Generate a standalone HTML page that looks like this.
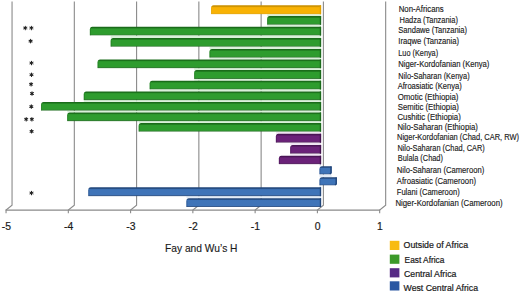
<!DOCTYPE html>
<html><head><meta charset="utf-8"><style>
html,body{margin:0;padding:0;background:#fff;overflow:hidden;}
svg{display:block;}
text{font-family:"Liberation Sans",sans-serif;fill:#1a1a1a;}
.lab{font-size:8.5px;stroke:#1a1a1a;stroke-width:0.15px;}
.ax{font-size:10.4px;stroke:#1a1a1a;stroke-width:0.18px;}
.title{font-size:11.8px;stroke:#1a1a1a;stroke-width:0.15px;}
.leg{font-size:9.2px;stroke:#1a1a1a;stroke-width:0.22px;}
</style></head><body>
<svg width="520" height="293" viewBox="0 0 520 293">
<defs><linearGradient id="go" x1="0" y1="0" x2="0" y2="1"><stop offset="0" stop-color="#c98f00"/><stop offset="0.11" stop-color="#c98f00"/><stop offset="0.26" stop-color="#f8b204"/><stop offset="0.84" stop-color="#f8b204"/><stop offset="0.95" stop-color="#e0a000" stop-opacity="0.9"/><stop offset="1" stop-color="#e0a000" stop-opacity="0.5"/></linearGradient><linearGradient id="gg" x1="0" y1="0" x2="0" y2="1"><stop offset="0" stop-color="#1a6c1a"/><stop offset="0.11" stop-color="#1a6c1a"/><stop offset="0.26" stop-color="#2e9c2e"/><stop offset="0.84" stop-color="#2e9c2e"/><stop offset="0.95" stop-color="#1b6a1b" stop-opacity="0.9"/><stop offset="1" stop-color="#1b6a1b" stop-opacity="0.5"/></linearGradient><linearGradient id="gp" x1="0" y1="0" x2="0" y2="1"><stop offset="0" stop-color="#4a1556"/><stop offset="0.11" stop-color="#4a1556"/><stop offset="0.26" stop-color="#6b2279"/><stop offset="0.84" stop-color="#6b2279"/><stop offset="0.95" stop-color="#44134f" stop-opacity="0.9"/><stop offset="1" stop-color="#44134f" stop-opacity="0.5"/></linearGradient><linearGradient id="gb" x1="0" y1="0" x2="0" y2="1"><stop offset="0" stop-color="#21467a"/><stop offset="0.11" stop-color="#21467a"/><stop offset="0.26" stop-color="#3f74b8"/><stop offset="0.84" stop-color="#3f74b8"/><stop offset="0.95" stop-color="#21457a" stop-opacity="0.9"/><stop offset="1" stop-color="#21457a" stop-opacity="0.5"/></linearGradient></defs>
<path d="M12.05 1.5 V205.3 L6.05 210.1 V213.3" fill="none" stroke="#8a8a8a" stroke-width="1.1"/>
<path d="M74.32 1.5 V205.3 L68.32 210.1 V213.3" fill="none" stroke="#8a8a8a" stroke-width="1.1"/>
<path d="M136.59 1.5 V205.3 L130.59 210.1 V213.3" fill="none" stroke="#8a8a8a" stroke-width="1.1"/>
<path d="M198.86 1.5 V205.3 L192.86 210.1 V213.3" fill="none" stroke="#8a8a8a" stroke-width="1.1"/>
<path d="M261.13 1.5 V205.3 L255.13 210.1 V213.3" fill="none" stroke="#8a8a8a" stroke-width="1.1"/>
<path d="M323.40 1.5 V205.3 L317.40 210.1 V213.3" fill="none" stroke="#8a8a8a" stroke-width="1.1"/>
<path d="M385.67 1.5 V205.3 L379.67 210.1 V213.3" fill="none" stroke="#8a8a8a" stroke-width="1.1"/>
<path d="M5.6 210.1 H380.2" stroke="#8a8a8a" stroke-width="1.1" fill="none"/>
<rect x="267.20" y="14.30" width="53.90" height="1.80" fill="#d9f0d9"/>
<rect x="267.20" y="24.80" width="53.90" height="1.90" fill="#d9f0d9"/>
<rect x="110.70" y="35.60" width="210.40" height="2.40" fill="#d9f0d9"/>
<rect x="209.50" y="46.80" width="111.60" height="2.10" fill="#d9f0d9"/>
<rect x="209.50" y="57.70" width="111.60" height="1.70" fill="#d9f0d9"/>
<rect x="194.20" y="68.20" width="126.90" height="1.90" fill="#d9f0d9"/>
<rect x="194.20" y="78.90" width="126.90" height="1.80" fill="#d9f0d9"/>
<rect x="149.70" y="89.50" width="171.40" height="1.90" fill="#d9f0d9"/>
<rect x="83.80" y="100.20" width="237.30" height="1.70" fill="#d9f0d9"/>
<rect x="67.20" y="110.70" width="253.90" height="1.70" fill="#d9f0d9"/>
<rect x="138.70" y="121.20" width="182.40" height="1.90" fill="#d9f0d9"/>
<rect x="275.90" y="131.70" width="45.20" height="2.10" fill="#f0e4f2"/>
<rect x="290.20" y="142.70" width="30.90" height="2.20" fill="#f0e4f2"/>
<rect x="290.20" y="153.70" width="30.90" height="2.00" fill="#f0e4f2"/>
<rect x="319.50" y="164.30" width="1.60" height="1.90" fill="#e3ecf7"/>
<rect x="319.50" y="174.50" width="12.20" height="2.70" fill="#e3ecf7"/>
<rect x="319.50" y="185.50" width="1.60" height="1.80" fill="#e3ecf7"/>
<rect x="186.40" y="196.20" width="134.70" height="2.00" fill="#e3ecf7"/>
<path d="M211.10 7.80 Q211.10 5.30 213.60 5.30 H321.10 V14.30 H211.10 Z" fill="url(#go)"/>
<path d="M211.55 7.80 V14.00" stroke="#e0a000" stroke-width="0.9" opacity="0.55"/>
<rect x="319.80" y="5.30" width="1.3" height="9.00" fill="#e0a000"/>
<path d="M267.20 18.60 Q267.20 16.10 269.70 16.10 H321.10 V24.80 H267.20 Z" fill="url(#gg)"/>
<path d="M267.65 18.60 V24.50" stroke="#1b6a1b" stroke-width="0.9" opacity="0.55"/>
<rect x="319.80" y="16.10" width="1.3" height="8.70" fill="#1b6a1b"/>
<path d="M89.90 29.20 Q89.90 26.70 92.40 26.70 H321.10 V35.60 H89.90 Z" fill="url(#gg)"/>
<path d="M90.35 29.20 V35.30" stroke="#1b6a1b" stroke-width="0.9" opacity="0.55"/>
<rect x="319.80" y="26.70" width="1.3" height="8.90" fill="#1b6a1b"/>
<path d="M110.70 40.50 Q110.70 38.00 113.20 38.00 H321.10 V46.80 H110.70 Z" fill="url(#gg)"/>
<path d="M111.15 40.50 V46.50" stroke="#1b6a1b" stroke-width="0.9" opacity="0.55"/>
<rect x="319.80" y="38.00" width="1.3" height="8.80" fill="#1b6a1b"/>
<path d="M209.50 51.40 Q209.50 48.90 212.00 48.90 H321.10 V57.70 H209.50 Z" fill="url(#gg)"/>
<path d="M209.95 51.40 V57.40" stroke="#1b6a1b" stroke-width="0.9" opacity="0.55"/>
<rect x="319.80" y="48.90" width="1.3" height="8.80" fill="#1b6a1b"/>
<path d="M97.60 61.90 Q97.60 59.40 100.10 59.40 H321.10 V68.20 H97.60 Z" fill="url(#gg)"/>
<path d="M98.05 61.90 V67.90" stroke="#1b6a1b" stroke-width="0.9" opacity="0.55"/>
<rect x="319.80" y="59.40" width="1.3" height="8.80" fill="#1b6a1b"/>
<path d="M194.20 72.60 Q194.20 70.10 196.70 70.10 H321.10 V78.90 H194.20 Z" fill="url(#gg)"/>
<path d="M194.65 72.60 V78.60" stroke="#1b6a1b" stroke-width="0.9" opacity="0.55"/>
<rect x="319.80" y="70.10" width="1.3" height="8.80" fill="#1b6a1b"/>
<path d="M149.70 83.20 Q149.70 80.70 152.20 80.70 H321.10 V89.50 H149.70 Z" fill="url(#gg)"/>
<path d="M150.15 83.20 V89.20" stroke="#1b6a1b" stroke-width="0.9" opacity="0.55"/>
<rect x="319.80" y="80.70" width="1.3" height="8.80" fill="#1b6a1b"/>
<path d="M83.80 93.90 Q83.80 91.40 86.30 91.40 H321.10 V100.20 H83.80 Z" fill="url(#gg)"/>
<path d="M84.25 93.90 V99.90" stroke="#1b6a1b" stroke-width="0.9" opacity="0.55"/>
<rect x="319.80" y="91.40" width="1.3" height="8.80" fill="#1b6a1b"/>
<path d="M41.10 104.40 Q41.10 101.90 43.60 101.90 H321.10 V110.70 H41.10 Z" fill="url(#gg)"/>
<path d="M41.55 104.40 V110.40" stroke="#1b6a1b" stroke-width="0.9" opacity="0.55"/>
<rect x="319.80" y="101.90" width="1.3" height="8.80" fill="#1b6a1b"/>
<path d="M67.20 114.90 Q67.20 112.40 69.70 112.40 H321.10 V121.20 H67.20 Z" fill="url(#gg)"/>
<path d="M67.65 114.90 V120.90" stroke="#1b6a1b" stroke-width="0.9" opacity="0.55"/>
<rect x="319.80" y="112.40" width="1.3" height="8.80" fill="#1b6a1b"/>
<path d="M138.70 125.60 Q138.70 123.10 141.20 123.10 H321.10 V131.70 H138.70 Z" fill="url(#gg)"/>
<path d="M139.15 125.60 V131.40" stroke="#1b6a1b" stroke-width="0.9" opacity="0.55"/>
<rect x="319.80" y="123.10" width="1.3" height="8.60" fill="#1b6a1b"/>
<path d="M275.90 136.30 Q275.90 133.80 278.40 133.80 H321.10 V142.70 H275.90 Z" fill="url(#gp)"/>
<path d="M276.35 136.30 V142.40" stroke="#44134f" stroke-width="0.9" opacity="0.55"/>
<rect x="319.80" y="133.80" width="1.3" height="8.90" fill="#44134f"/>
<path d="M290.20 147.40 Q290.20 144.90 292.70 144.90 H321.10 V153.70 H290.20 Z" fill="url(#gp)"/>
<path d="M290.65 147.40 V153.40" stroke="#44134f" stroke-width="0.9" opacity="0.55"/>
<rect x="319.80" y="144.90" width="1.3" height="8.80" fill="#44134f"/>
<path d="M278.90 158.20 Q278.90 155.70 281.40 155.70 H321.10 V164.30 H278.90 Z" fill="url(#gp)"/>
<path d="M279.35 158.20 V164.00" stroke="#44134f" stroke-width="0.9" opacity="0.55"/>
<rect x="319.80" y="155.70" width="1.3" height="8.60" fill="#44134f"/>
<path d="M319.50 168.70 Q319.50 166.20 322.00 166.20 H331.70 V173.00 L330.20 174.50 H319.50 Z" fill="url(#gb)"/>
<path d="M319.95 168.70 V174.20" stroke="#21457a" stroke-width="0.9" opacity="0.55"/>
<path d="M331.00 166.50 V173.00 L329.90 174.10" stroke="#21457a" stroke-width="1.4" fill="none"/>
<path d="M319.50 179.70 Q319.50 177.20 322.00 177.20 H336.90 V184.00 L335.40 185.50 H319.50 Z" fill="url(#gb)"/>
<path d="M319.95 179.70 V185.20" stroke="#21457a" stroke-width="0.9" opacity="0.55"/>
<path d="M336.20 177.50 V184.00 L335.10 185.10" stroke="#21457a" stroke-width="1.4" fill="none"/>
<path d="M88.30 189.80 Q88.30 187.30 90.80 187.30 H321.10 V196.20 H88.30 Z" fill="url(#gb)"/>
<path d="M88.75 189.80 V195.90" stroke="#21457a" stroke-width="0.9" opacity="0.55"/>
<rect x="319.80" y="187.30" width="1.3" height="8.90" fill="#21457a"/>
<path d="M186.40 200.70 Q186.40 198.20 188.90 198.20 H321.10 V207.10 H186.40 Z" fill="url(#gb)"/>
<path d="M186.85 200.70 V206.80" stroke="#21457a" stroke-width="0.9" opacity="0.55"/>
<rect x="319.80" y="198.20" width="1.3" height="8.90" fill="#21457a"/>
<text x="398.70" y="11.90" textLength="45.00" lengthAdjust="spacingAndGlyphs" class="lab">Non-Africans</text>
<text x="399.50" y="22.50" textLength="58.40" lengthAdjust="spacingAndGlyphs" class="lab">Hadza (Tanzania)</text>
<text x="398.30" y="32.80" textLength="68.70" lengthAdjust="spacingAndGlyphs" class="lab">Sandawe (Tanzania)</text>
<text x="398.30" y="43.60" textLength="60.80" lengthAdjust="spacingAndGlyphs" class="lab">Iraqwe (Tanzania)</text>
<text x="398.30" y="55.70" textLength="39.80" lengthAdjust="spacingAndGlyphs" class="lab">Luo (Kenya)</text>
<text x="398.30" y="67.30" textLength="91.10" lengthAdjust="spacingAndGlyphs" class="lab">Niger-Kordofanian (Kenya)</text>
<text x="398.30" y="79.00" textLength="71.30" lengthAdjust="spacingAndGlyphs" class="lab">Nilo-Saharan (Kenya)</text>
<text x="397.70" y="89.40" textLength="64.10" lengthAdjust="spacingAndGlyphs" class="lab">Afroasiatic (Kenya)</text>
<text x="397.70" y="99.70" textLength="60.70" lengthAdjust="spacingAndGlyphs" class="lab">Omotic (Ethiopia)</text>
<text x="397.70" y="109.90" textLength="61.20" lengthAdjust="spacingAndGlyphs" class="lab">Semitic (Ethiopia)</text>
<text x="397.40" y="119.80" textLength="63.40" lengthAdjust="spacingAndGlyphs" class="lab">Cushitic (Ethiopia)</text>
<text x="397.40" y="129.60" textLength="80.40" lengthAdjust="spacingAndGlyphs" class="lab">Nilo-Saharan (Ethiopia)</text>
<text x="397.00" y="140.20" textLength="122.10" lengthAdjust="spacingAndGlyphs" class="lab">Niger-Kordofanian (Chad, CAR, RW)</text>
<text x="397.40" y="150.90" textLength="87.40" lengthAdjust="spacingAndGlyphs" class="lab">Nilo-Saharan (Chad, CAR)</text>
<text x="397.80" y="161.40" textLength="45.10" lengthAdjust="spacingAndGlyphs" class="lab">Bulala (Chad)</text>
<text x="396.80" y="173.30" textLength="87.40" lengthAdjust="spacingAndGlyphs" class="lab">Nilo-Saharan (Cameroon)</text>
<text x="396.80" y="183.60" textLength="79.20" lengthAdjust="spacingAndGlyphs" class="lab">Afroasiatic (Cameroon)</text>
<text x="396.80" y="194.80" textLength="62.90" lengthAdjust="spacingAndGlyphs" class="lab">Fulani (Cameroon)</text>
<text x="395.40" y="206.10" textLength="107.20" lengthAdjust="spacingAndGlyphs" class="lab">Niger-Kordofanian (Cameroon)</text>
<path d="M25.30 26.25 L25.30 29.75 M26.82 27.12 L23.78 28.88 M26.82 28.88 L23.78 27.12 " stroke="#222" stroke-width="1.05" fill="none" stroke-linecap="round"/>
<circle cx="25.3" cy="28.0" r="1.05" fill="#222"/>
<path d="M31.40 26.25 L31.40 29.75 M32.92 27.12 L29.88 28.88 M32.92 28.88 L29.88 27.12 " stroke="#222" stroke-width="1.05" fill="none" stroke-linecap="round"/>
<circle cx="31.4" cy="28.0" r="1.05" fill="#222"/>
<path d="M30.60 39.35 L30.60 42.85 M32.12 40.23 L29.08 41.98 M32.12 41.98 L29.08 40.23 " stroke="#222" stroke-width="1.05" fill="none" stroke-linecap="round"/>
<circle cx="30.6" cy="41.1" r="1.05" fill="#222"/>
<path d="M31.50 61.25 L31.50 64.75 M33.02 62.12 L29.98 63.88 M33.02 63.88 L29.98 62.12 " stroke="#222" stroke-width="1.05" fill="none" stroke-linecap="round"/>
<circle cx="31.5" cy="63.0" r="1.05" fill="#222"/>
<path d="M31.50 72.95 L31.50 76.45 M33.02 73.83 L29.98 75.58 M33.02 75.58 L29.98 73.83 " stroke="#222" stroke-width="1.05" fill="none" stroke-linecap="round"/>
<circle cx="31.5" cy="74.7" r="1.05" fill="#222"/>
<path d="M31.10 82.45 L31.10 85.95 M32.62 83.33 L29.58 85.08 M32.62 85.08 L29.58 83.33 " stroke="#222" stroke-width="1.05" fill="none" stroke-linecap="round"/>
<circle cx="31.1" cy="84.2" r="1.05" fill="#222"/>
<path d="M32.00 91.75 L32.00 95.25 M33.52 92.62 L30.48 94.38 M33.52 94.38 L30.48 92.62 " stroke="#222" stroke-width="1.05" fill="none" stroke-linecap="round"/>
<circle cx="32.0" cy="93.5" r="1.05" fill="#222"/>
<path d="M31.30 104.85 L31.30 108.35 M32.82 105.72 L29.78 107.47 M32.82 107.47 L29.78 105.72 " stroke="#222" stroke-width="1.05" fill="none" stroke-linecap="round"/>
<circle cx="31.3" cy="106.6" r="1.05" fill="#222"/>
<path d="M26.20 117.45 L26.20 120.95 M27.72 118.33 L24.68 120.08 M27.72 120.08 L24.68 118.33 " stroke="#222" stroke-width="1.05" fill="none" stroke-linecap="round"/>
<circle cx="26.2" cy="119.2" r="1.05" fill="#222"/>
<path d="M31.90 117.45 L31.90 120.95 M33.42 118.33 L30.38 120.08 M33.42 120.08 L30.38 118.33 " stroke="#222" stroke-width="1.05" fill="none" stroke-linecap="round"/>
<circle cx="31.9" cy="119.2" r="1.05" fill="#222"/>
<path d="M31.60 129.55 L31.60 133.05 M33.12 130.43 L30.08 132.18 M33.12 132.18 L30.08 130.43 " stroke="#222" stroke-width="1.05" fill="none" stroke-linecap="round"/>
<circle cx="31.6" cy="131.3" r="1.05" fill="#222"/>
<path d="M31.50 191.25 L31.50 194.75 M33.02 192.12 L29.98 193.88 M33.02 193.88 L29.98 192.12 " stroke="#222" stroke-width="1.05" fill="none" stroke-linecap="round"/>
<circle cx="31.5" cy="193.0" r="1.05" fill="#222"/>
<text x="6.35" y="229.7" class="ax" text-anchor="middle">-5</text>
<text x="68.62" y="229.7" class="ax" text-anchor="middle">-4</text>
<text x="130.89" y="229.7" class="ax" text-anchor="middle">-3</text>
<text x="193.16" y="229.7" class="ax" text-anchor="middle">-2</text>
<text x="255.43" y="229.7" class="ax" text-anchor="middle">-1</text>
<text x="317.70" y="229.7" class="ax" text-anchor="middle">0</text>
<text x="379.97" y="229.7" class="ax" text-anchor="middle">1</text>
<text x="165" y="251.9" class="title" textLength="72.5" lengthAdjust="spacingAndGlyphs">Fay and Wu’s H</text>
<rect x="389.8" y="240.8" width="9.6" height="9.2" fill="#f8bb10"/>
<text x="403.6" y="247.9" class="leg" textLength="64.5" lengthAdjust="spacingAndGlyphs">Outside of Africa</text>
<rect x="389.8" y="254.6" width="9.6" height="9.2" fill="#3c9a2a"/>
<text x="404.6" y="262.7" class="leg" textLength="39.8" lengthAdjust="spacingAndGlyphs">East Africa</text>
<rect x="389.8" y="268.2" width="9.6" height="9.2" fill="#562a85"/>
<text x="404.0" y="277.0" class="leg" textLength="52.4" lengthAdjust="spacingAndGlyphs">Central Africa</text>
<rect x="389.8" y="281.3" width="9.6" height="9.2" fill="#2a57a2"/>
<text x="403.6" y="290.8" class="leg" textLength="74.4" lengthAdjust="spacingAndGlyphs">West Central Africa</text>
</svg>
</body></html>
